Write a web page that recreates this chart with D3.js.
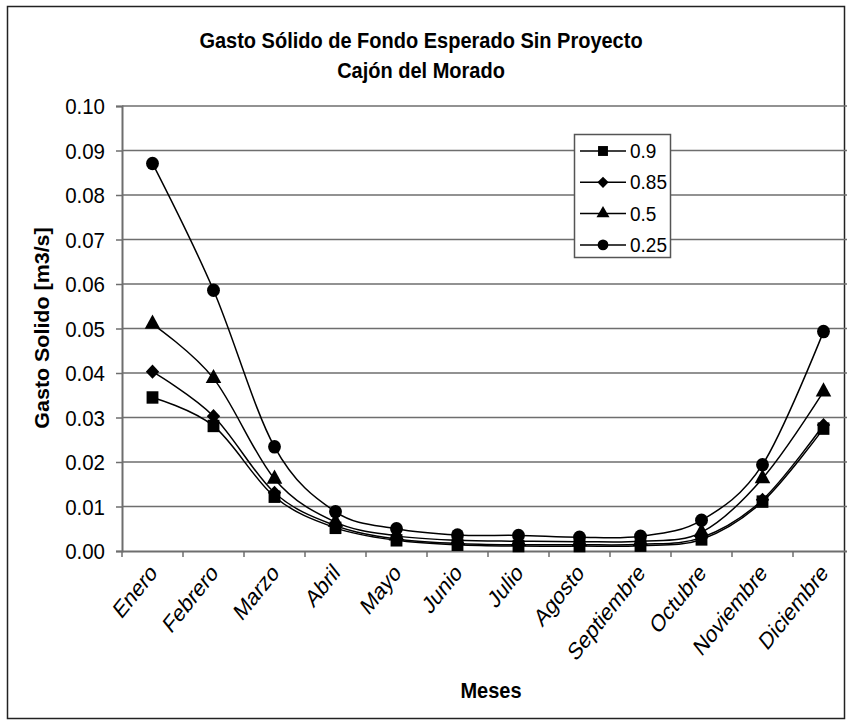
<!DOCTYPE html>
<html>
<head>
<meta charset="utf-8">
<script src="https://cdn.jsdelivr.net/npm/d3@7"></script>
<style>
  body { margin: 0; background: #fff; }
  svg { display: block; font-family: Arial, "Liberation Sans", sans-serif; }
</style>
</head>
<body>
<script>
var width = 847;
var height = 724;

var months = ["Enero", "Febrero", "Marzo", "Abril", "Mayo", "Junio", "Julio",
  "Agosto", "Septiembre", "Octubre", "Noviembre", "Diciembre"];
var yTicks = [0, 0.01, 0.02, 0.03, 0.04, 0.05, 0.06, 0.07, 0.08, 0.09, 0.10];

var q090 = [0.0345, 0.0281, 0.0122, 0.0052, 0.0024, 0.0014, 0.0011, 0.0011, 0.0012, 0.0026, 0.0111, 0.0275];
var q085 = [0.0403, 0.0303, 0.0131, 0.0057, 0.0027, 0.0017, 0.0014, 0.0014, 0.0015, 0.0030, 0.0115, 0.0283];
var q050 = [0.0510, 0.0388, 0.0162, 0.0065, 0.0034, 0.0024, 0.0022, 0.0021, 0.0022, 0.0042, 0.0163, 0.0358];
var q025 = [0.0871, 0.0586, 0.0234, 0.0088, 0.0050, 0.0036, 0.0035, 0.0031, 0.0033, 0.0069, 0.0194, 0.0493];

var seriesNames = ["0.9", "0.85", "0.5", "0.25"];
var seriesValues = [q090, q085, q050, q025];

// marker per series: square, diamond, triangle, circle
var symbols = [
  { type: d3.symbolSquare, size: 140 },
  { type: d3.symbolDiamond2, size: 115 },
  { type: d3.symbolTriangle, size: 105 },
  { type: d3.symbolCircle, size: 130 }
];

// the picture is taller than it is wide, so text looks stretched
var stretch = 1.2;

var plotLeft = 122, plotTop = 106, plotBottom = 551;

var svg = d3.select("body")
  .append("svg")
  .attr("width", width)
  .attr("height", height);

// chart border
svg.append("rect")
  .attr("x", 7.5).attr("y", 6.5)
  .attr("width", 837).attr("height", 712)
  .attr("fill", "none")
  .attr("stroke", "#222")
  .attr("stroke-width", 1.5);

var x = d3.scaleBand()
  .domain(months)
  .range([plotLeft, plotLeft + 61 * 12])
  .padding(0);

var y = d3.scaleLinear()
  .domain([0, 0.1])
  .range([plotBottom, plotTop]);

function stretchedText(sel, px, py, angle, k) {
  return sel.attr("transform", "translate(" + px + "," + py + ") scale(1," + (k || stretch) + ") rotate(" + angle + ")");
}

// grid lines
svg.append("g")
  .selectAll("line")
  .data(yTicks.slice(1))
  .enter()
  .append("line")
  .attr("x1", plotLeft)
  .attr("x2", width)
  .attr("y1", function(d) { return y(d); })
  .attr("y2", function(d) { return y(d); })
  .attr("stroke", "#6e6e6e")
  .attr("stroke-width", 1.5);

// y axis
var yAxis = svg.append("g")
  .attr("transform", "translate(" + plotLeft + ",0)")
  .call(d3.axisLeft(y).tickValues(yTicks).tickFormat(d3.format(".2f")).tickSize(6).tickPadding(4));
yAxis.select(".domain").attr("stroke", "#6e6e6e").attr("stroke-width", 2);
yAxis.selectAll(".tick line").attr("stroke", "#6e6e6e").attr("stroke-width", 1.5);
yAxis.selectAll(".tick text").remove();
yAxis.selectAll(".tick").append("g")
  .each(function(d) {
    d3.select(this).append("text")
      .attr("text-anchor", "end")
      .attr("dy", "0.35em")
      .attr("font-size", 20.5)
      .attr("fill", "#000")
      .text(d3.format(".2f")(d));
    stretchedText(d3.select(this), -17, 0, 0, 1.05);
  });

// x axis
var xAxis = svg.append("g")
  .attr("transform", "translate(0," + plotBottom + ")")
  .call(d3.axisBottom(x).tickSize(0).tickFormat(""));
xAxis.select(".domain").attr("stroke", "#6e6e6e").attr("stroke-width", 2);

svg.append("g")
  .selectAll("line")
  .data(months)
  .enter()
  .append("line")
  .attr("x1", function(d) { return x(d); })
  .attr("x2", function(d) { return x(d); })
  .attr("y1", plotBottom)
  .attr("y2", plotBottom + 6)
  .attr("stroke", "#6e6e6e")
  .attr("stroke-width", 1.5);

svg.append("g")
  .selectAll("g")
  .data(months)
  .enter()
  .append("g")
  .each(function(d) {
    d3.select(this).append("text")
      .attr("text-anchor", "end")
      .attr("font-size", 19.5)
      .attr("dy", "0.7em")
      .text(d);
    stretchedText(d3.select(this), x(d) + x.bandwidth() / 2 - 4, plotBottom + 11, -45, 1.25);
  });

// lines
var line = d3.line()
  .x(function(d, i) { return x(months[i]) + x.bandwidth() / 2; })
  .y(function(d) { return y(d); })
  .curve(d3.curveCatmullRom.alpha(0));

svg.append("g")
  .selectAll("path")
  .data(seriesValues)
  .enter()
  .append("path")
  .attr("d", line)
  .attr("fill", "none")
  .attr("stroke", "#000")
  .attr("stroke-width", 1.5);

// markers
seriesValues.forEach(function(vals, s) {
  svg.append("g")
    .selectAll("path")
    .data(vals)
    .enter()
    .append("path")
    .attr("d", d3.symbol().type(symbols[s].type).size(symbols[s].size))
    .attr("transform", function(d, i) {
      return "translate(" + (x(months[i]) + x.bandwidth() / 2) + "," + y(d) + ") scale(1,1.05)";
    })
    .attr("fill", "#000");
});

// legend
var legend = svg.append("g");
legend.append("rect")
  .attr("x", 574.5).attr("y", 134.5)
  .attr("width", 96).attr("height", 123)
  .attr("fill", "#fff")
  .attr("stroke", "#555")
  .attr("stroke-width", 1.5);

seriesNames.forEach(function(name, s) {
  var ly = 151 + s * 31.3;
  legend.append("line")
    .attr("x1", 580).attr("x2", 626)
    .attr("y1", ly).attr("y2", ly)
    .attr("stroke", "#000").attr("stroke-width", 1.5);
  legend.append("path")
    .attr("d", d3.symbol().type(symbols[s].type).size(symbols[s].size * 0.7))
    .attr("transform", "translate(603," + ly + ")")
    .attr("fill", "#000");
  var g = legend.append("g");
  g.append("text")
    .attr("font-size", 19)
    .attr("dy", "0.35em")
    .text(name);
  stretchedText(g, 630, ly, 0, 1.05);
});

// titles
var t1 = svg.append("g");
t1.append("text").attr("text-anchor", "middle").attr("font-size", 20).attr("font-weight", "bold")
  .text("Gasto Sólido de Fondo Esperado Sin Proyecto");
stretchedText(t1, 421, 48, 0, 1.1);

var t2 = svg.append("g");
t2.append("text").attr("text-anchor", "middle").attr("font-size", 20).attr("font-weight", "bold")
  .text("Cajón del Morado");
stretchedText(t2, 421, 78, 0, 1.1);

var yt = svg.append("g");
yt.append("text").attr("text-anchor", "middle").attr("font-size", 19.5).attr("font-weight", "bold")
  .text("Gasto Solido [m3/s]");
stretchedText(yt, 49, 328, -90, 1.1);

var xt = svg.append("g");
xt.append("text").attr("text-anchor", "middle").attr("font-size", 20).attr("font-weight", "bold")
  .text("Meses");
stretchedText(xt, 491, 698, 0, 1.1);
</script>
</body>
</html>
